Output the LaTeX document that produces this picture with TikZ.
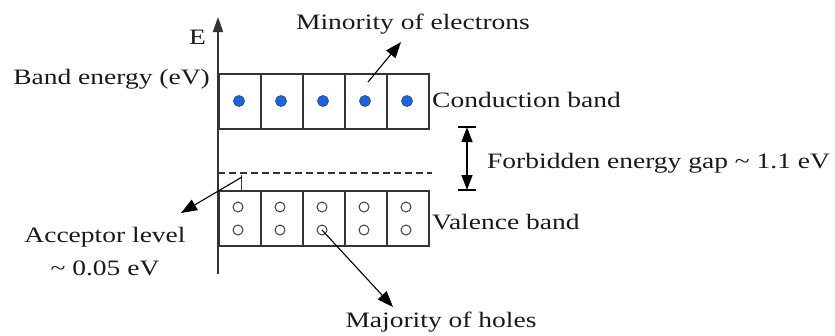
\documentclass[tikz,border=0pt]{standalone}
\usepackage{fontspec}
\setmainfont[FakeStretch=1.25]{Liberation Serif}
\usetikzlibrary{arrows.meta}
\definecolor{ln}{HTML}{333333}
\definecolor{eblue}{HTML}{1166EE}
\begin{document}
\begin{tikzpicture}[x=1pt,y=-1pt,
  lbl/.style={font=\fontsize{22}{26}\selectfont, inner sep=0pt, text=black!90},
  band/.style={draw=ln, line width=1.6pt},
  elec/.style={draw=black!70, fill=eblue, line width=0.8pt},
  hole/.style={draw=black!75, fill=white, line width=1pt},
  ptr/.style={draw=black, line width=1.1pt, -{Triangle[length=16pt,width=12pt]}},
]
\useasboundingbox (0,0) rectangle (835,335);
% axis
\coordinate (axb) at (218,274);
\coordinate (axt) at (218,17);
\draw[line width=1.8pt, draw=ln, -{Triangle[length=15pt,width=10pt]}] (axb) -- (axt);
\node[lbl, anchor=east] (E) at (206,37) {E};
\node[lbl, anchor=east] (be) at (210,79) {Band energy (eV)};
% conduction band
\foreach \i in {0,...,4}{
  \node[band, minimum width=42pt, minimum height=55pt, inner sep=0pt, anchor=north west] (c\i) at (218+42*\i,73) {};
  \node[elec, circle, minimum size=11pt, inner sep=0pt] (e\i) at (239+42*\i,101) {};
}
% valence band
\foreach \i in {0,...,4}{
  \node[band, minimum width=42pt, minimum height=55pt, inner sep=0pt, anchor=north west] (v\i) at (218+42*\i,190) {};
  \node[hole, circle, minimum size=10pt, inner sep=0pt] (ha\i) at (238+42*\i,207) {};
  \node[hole, circle, minimum size=10pt, inner sep=0pt] (hb\i) at (238+42*\i,230) {};
}
% acceptor level
\coordinate (dl) at (218,173);
\coordinate (dr) at (432,173);
\draw[dashed, dash pattern=on 7pt off 4pt, line width=1.2pt, draw=ln] (dl) -- (dr);
\coordinate (tk) at (241,175);
\coordinate (tkb) at (241,190);
\draw[line width=1pt, draw=ln] (tk) -- (tkb);
% labels
\node[lbl, anchor=west] (cb) at (432,100) {Conduction band};
\node[lbl, anchor=west] (vb) at (432,222) {Valence band};
\node[lbl] (min) at (413,24) {Minority of electrons};
\node[lbl] (maj) at (441,322) {Majority of holes};
\node[lbl] (acc) at (105,237) {Acceptor level};
\node[lbl] (acc2) at (105,268) {\textasciitilde{} 0.05 eV};
\node[lbl, anchor=west] (gap) at (487,163) {Forbidden energy gap \textasciitilde{} 1.1 eV};
% arrows
\coordinate (minf) at (368,82);
\coordinate (mint) at (401,42);
\draw[ptr] (minf) -- (mint);
\coordinate (accf) at (242,177);
\coordinate (acct) at (181,213);
\draw[ptr] (accf) -- (acct);
\coordinate (majt) at (393,307);
\draw[ptr] (hb2.center) -- (majt);
% gap double arrow
\coordinate (gt) at (467,127);
\coordinate (gb) at (467,190);
\draw[line width=1.3pt, {Triangle[length=15pt,width=11pt]}-{Triangle[length=15pt,width=11pt]}] (gt) -- (gb);
\draw[line width=1.3pt] (458,127) -- (476,127) (458,190) -- (476,190);
\end{tikzpicture}
\end{document}
